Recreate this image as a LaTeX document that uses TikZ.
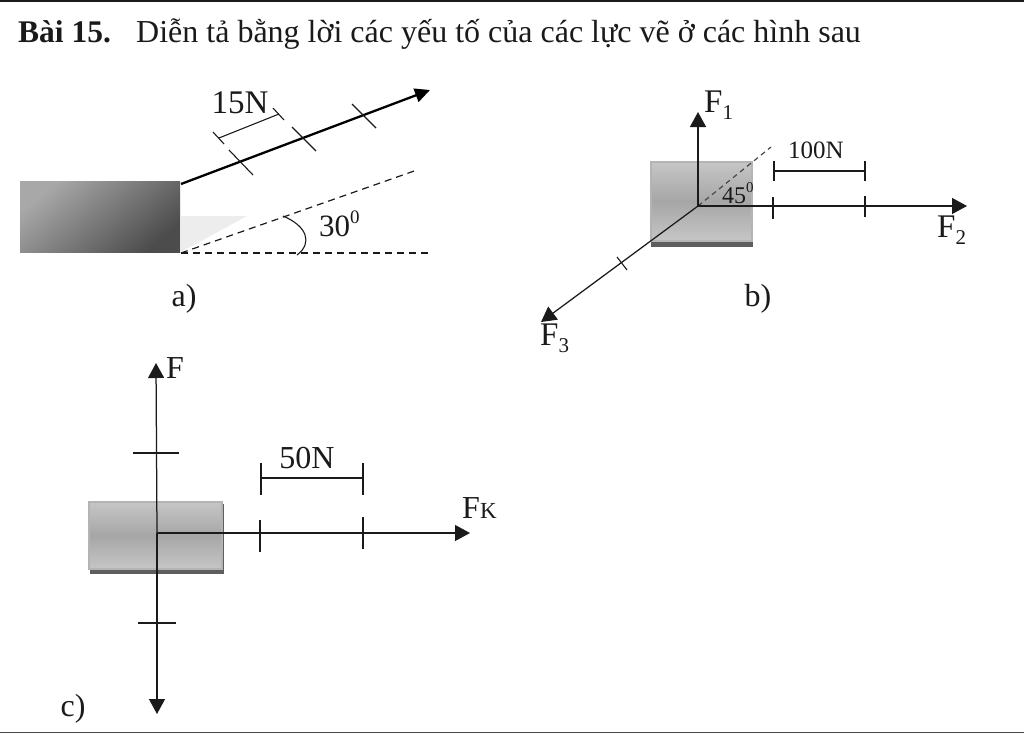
\documentclass[tikz,border=0pt]{standalone}
\usepackage{fontspec}
\setmainfont{Liberation Serif}
\usetikzlibrary{arrows.meta}
\definecolor{ink}{HTML}{1A1A1A}
\definecolor{blockedge}{HTML}{B4B4B4}
\definecolor{blockshadow}{HTML}{5E5E5E}
\definecolor{blockend}{HTML}{C6C6C6}
\definecolor{blockmid}{HTML}{A6A6A6}
\newcommand{\sz}[1]{\fontsize{#1}{#1}\selectfont}
\newcommand{\Fsub}[2]{F\raisebox{-0.22em}{\sz{#2}#1}}
\tikzset{
  x=1pt,y=-1pt,
  thinline/.style={draw=ink,line width=1.25pt},
  tick/.style={draw=ink,line width=1.1pt},
  force/.style={thinline,-{Triangle[length=15pt,width=16pt]}},
  dashline/.style={draw=ink,line width=1.2pt,dash pattern=on 7pt off 5pt},
  lab/.style={inner sep=0pt,text=ink,anchor=base},
  blockb/.style={draw=blockedge,line width=2pt,top color=blockend,bottom color=blockend,middle color=blockmid,shading angle=0,minimum width=#1,inner sep=0pt},
  shadowbox/.style={fill=blockshadow,inner sep=0pt},
}
\begin{document}
\begin{tikzpicture}
\useasboundingbox (0,0) rectangle (1024,734);
\fill[white] (0,0) rectangle (1024,734);
\coordinate (topL) at (0,0.8); \coordinate (topR) at (1024,0.8);
\draw[draw=ink,line width=1.6pt] (topL) -- (topR);
\coordinate (botL) at (0,732.5); \coordinate (botR) at (1024,732.5);
\draw[draw=ink!80,line width=1.6pt] (botL) -- (botR);
% title
\node[lab,anchor=base west,font=\sz{31.5}\bfseries] (t1) at (18,42) {Bài 15.};
\node[lab,anchor=base west,font=\sz{32}] (t2) at (136,42) {Diễn tả bằng lời các yếu tố của các lực vẽ ở các hình sau};

% ---------- a
\fill[black!7] (181,216) -- (247,216) -- (181,252) -- cycle;
\node[inner sep=0pt,minimum width=160pt,minimum height=71pt,anchor=north west,draw=none,
      top color=black!34,bottom color=black!70,shading angle=40] (blockA) at (20,181) {};
\coordinate (aS) at (181,184); \coordinate (aE) at (430,90);
\draw[draw=black,line width=2.3pt,-{Triangle[length=15pt,width=14pt]}] (aS) -- (aE);
\foreach \n/\xa/\ya/\xb/\yb in {1/229/150/253/175,2/292/127/316/151,3/352/104/376/128}{
  \coordinate (at\n a) at (\xa,\ya); \coordinate (at\n b) at (\xb,\yb);
  \draw[tick] (at\n a) -- (at\n b);
}
\coordinate (ad1a) at (213,132); \coordinate (ad1b) at (224,144);
\coordinate (ad2a) at (273,108); \coordinate (ad2b) at (284,120);
\coordinate (adL) at (219,138); \coordinate (adR) at (279,114);
\draw[tick] (ad1a) -- (ad1b);
\draw[tick] (ad2a) -- (ad2b);
\draw[tick] (adL) -- (adR);
\coordinate (aO) at (181,253); \coordinate (aD1) at (417,170); \coordinate (aD2) at (430,253);
\draw[dashline] (aO) -- (aD1);
\draw[dashline] (aO) -- (aD2);
\coordinate (arc1) at (283,216); \coordinate (arc2) at (297,255);
\draw[tick] (arc1) .. controls (307,226) and (313,243) .. (arc2);
\node[lab,font=\sz{33}] (l15) at (240,113) {15N};
\node[lab,font=\sz{31},anchor=base west] (l30) at (319,236) {30\raisebox{0.40em}{\sz{19}0}};
\node[lab,font=\sz{32}] (la) at (184,306) {a)};

% ---------- b
\node[shadowbox,anchor=north west,minimum width=102pt,minimum height=11pt] (shB) at (651,236) {};
\node[blockb=101pt,minimum height=79pt,anchor=north west] (blockB) at (650,161) {};
\coordinate (bO) at (698,206);
\coordinate (bF1) at (698,112); \coordinate (bF2) at (967,206); \coordinate (bF3) at (541,322);
\coordinate (bD) at (771,147);
\draw[dashline,dash pattern=on 5pt off 4pt,draw=ink!80] (bO) -- (bD);
\draw[force] (bO) -- (bF1);
\draw[force] (bO) -- (bF2);
\draw[force] (bO) -- (bF3);
\foreach \n/\xa/\ya/\xb/\yb in {1/773/197/773/219,2/865/196/865/217,3/617/257/627/270}{
  \coordinate (bt\n a) at (\xa,\ya); \coordinate (bt\n b) at (\xb,\yb);
  \draw[tick] (bt\n a) -- (bt\n b);
}
\coordinate (bdL) at (774,171); \coordinate (bdR) at (865,171);
\coordinate (bd1a) at (774,161); \coordinate (bd1b) at (774,181);
\coordinate (bd2a) at (865,161); \coordinate (bd2b) at (865,181);
\draw[tick] (bdL) -- (bdR);
\draw[tick] (bd1a) -- (bd1b);
\draw[tick] (bd2a) -- (bd2b);
\node[lab,font=\sz{25}] (l100) at (816,158) {100N};
\node[lab,font=\sz{24},anchor=base west] (l45) at (722,203) {45\raisebox{0.42em}{\sz{15}0}};
\node[lab,font=\sz{33},anchor=base west] (lF1) at (704,112) {\Fsub{1}{21}};
\node[lab,font=\sz{33},anchor=base west] (lF2) at (937,237) {\Fsub{2}{21}};
\node[lab,font=\sz{33},anchor=base west] (lF3) at (540,345) {\Fsub{3}{21}};
\node[lab,font=\sz{32}] (lb) at (758,306) {b)};

% ---------- c
\node[shadowbox,anchor=north west,minimum width=134pt,minimum height=70pt] (shC) at (90,504) {};
\node[blockb=133pt,minimum height=67pt,anchor=north west] (blockC) at (88,501) {};
\coordinate (cO) at (157,533);
\coordinate (cU) at (156,363); \coordinate (cD) at (157,714); \coordinate (cR) at (470,533);
\draw[force] (cO) -- (cU);
\draw[force] (cO) -- (cD);
\draw[force] (cO) -- (cR);
\foreach \n/\xa/\ya/\xb/\yb in {1/133/453/179/453,2/138/623/176/623,3/260/520/260/552,4/363/517/363/549}{
  \coordinate (ct\n a) at (\xa,\ya); \coordinate (ct\n b) at (\xb,\yb);
  \draw[tick] (ct\n a) -- (ct\n b);
}
\coordinate (cdL) at (261,478); \coordinate (cdR) at (363,478);
\coordinate (cd1a) at (261,463); \coordinate (cd1b) at (261,495);
\coordinate (cd2a) at (363,463); \coordinate (cd2b) at (363,495);
\draw[tick] (cdL) -- (cdR);
\draw[tick] (cd1a) -- (cd1b);
\draw[tick] (cd2a) -- (cd2b);
\node[lab,font=\sz{32}] (l50) at (307,468) {50N};
\node[lab,font=\sz{32},anchor=base west] (lF) at (166,378) {F};
\node[lab,font=\sz{32},anchor=base west] (lFK) at (462,518) {F\raisebox{-0.03em}{\sz{23}K}};
\node[lab,font=\sz{32}] (lc) at (73,716) {c)};
\end{tikzpicture}
\end{document}
